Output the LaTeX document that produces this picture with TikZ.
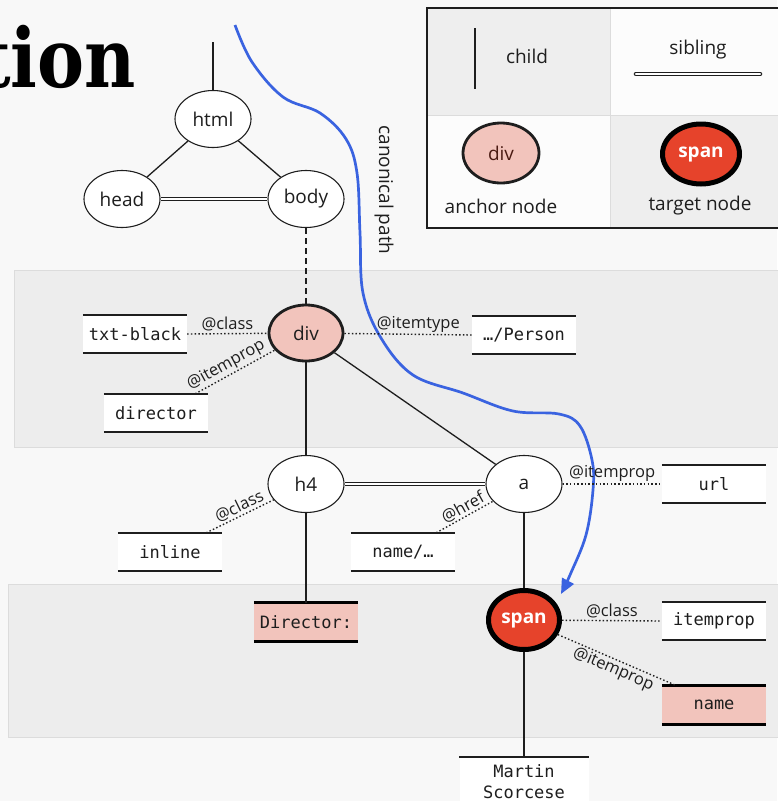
\documentclass[tikz,border=0pt]{standalone}
\usepackage{fontspec}
\setmainfont{Open Sans}
\setmonofont{DejaVu Sans Mono}
\newfontfamily\titlefont{DejaVu Serif}
\usetikzlibrary{shapes.geometric,arrows.meta,calc}
\definecolor{bgc}{HTML}{F8F8F8}
\definecolor{bandc}{HTML}{EDEDED}
\definecolor{bandline}{HTML}{DCDCDC}
\definecolor{pinkc}{HTML}{F2C4BC}
\definecolor{redc}{HTML}{E6432B}
\definecolor{bluec}{HTML}{3A63E0}
\definecolor{inkc}{HTML}{1E1E1E}
\definecolor{cellgray}{HTML}{EEEEEE}
\definecolor{cellwhite}{HTML}{FCFCFC}
\definecolor{dotc}{HTML}{222222}
\definecolor{divtext}{HTML}{4A1A12}
\begin{document}
\begin{tikzpicture}[x=1pt,y=-1pt,
  tnode/.style={ellipse,draw=inkc,fill=white,line width=1.1pt,minimum width=76pt,minimum height=57pt,inner sep=0pt,text=inkc,font=\fontsize{19}{22}\selectfont},
  anchornode/.style={tnode,fill=pinkc,line width=2.8pt,minimum width=74pt,minimum height=56pt},
  targetnode/.style={tnode,draw=black,fill=redc,line width=5pt,minimum width=71pt,minimum height=59pt,text=white,font=\fontsize{19}{22}\selectfont\bfseries},
  valbox/.style={fill=white,minimum width=104pt,minimum height=38pt,inner sep=0pt,text=inkc,font=\ttfamily\fontsize{17}{21}\selectfont},
  hlbox/.style={valbox,fill=pinkc},
  boxrule/.style={line width=2.2pt,draw=inkc},
  hlrule/.style={line width=3pt,draw=black},
  childedge/.style={line width=1.3pt,draw=inkc},
  sibedge/.style={double=white,double distance=2.6pt,line width=1pt,draw=inkc},
  attr/.style={dash pattern=on 1.5pt off 2.2pt,line width=1.4pt,draw=dotc},
  attrlbl/.style={font=\fontsize{16.5}{18}\selectfont,inner sep=1.5pt,text=inkc},
  lbl/.style={font=\fontsize{19}{22}\selectfont,inner sep=0pt,text=inkc}
]
\useasboundingbox (0,0) rectangle (777,801);
\fill[bgc] (0,0) rectangle (777,801);
% bands
\filldraw[fill=bandc,draw=bandline,line width=0.8pt] (14,270) rectangle (790,447);
\filldraw[fill=bandc,draw=bandline,line width=0.8pt] (8,584) rectangle (790,737);

% title fragment
\node[anchor=base east,inner sep=0pt,text=black,font=\titlefont\bfseries\fontsize{82}{90}\selectfont] (title) at (136,87) {\scalebox{0.86}[1]{tion}};

% legend
\fill[cellgray] (427,8) rectangle (610,115);
\fill[cellwhite] (610,8) rectangle (790,115);
\fill[cellwhite] (427,115) rectangle (610,228);
\fill[cellgray] (610,115) rectangle (790,228);
\draw[bandline,line width=1pt] (610,8) -- (610,228) (427,115) -- (790,115);
\draw[draw=inkc,line width=1.3pt] (427,8) rectangle (790,228);
\coordinate (lcA) at (475,28);
\coordinate (lcB) at (475,89);
\draw[childedge] (lcA) -- (lcB);
\node[lbl] (lchild) at (527,56) {child};
\coordinate (lsA) at (636,74);
\coordinate (lsB) at (760,74);
\draw[sibedge,line cap=round] (lsA) -- (lsB);
\node[lbl] (lsib) at (698,50) {sibling};
\node[anchornode,minimum width=76pt,minimum height=60pt,text=divtext] (ldiv) at (501,153) {div};
\node[targetnode,minimum width=77pt,minimum height=60pt] (lspan) at (701,154) {span};
\node[lbl] (lanchor) at (501,206) {anchor node};
\node[lbl] (ltarget) at (700,206) {target node};

% blue canonical path
\coordinate (cpStart) at (235,25);
\coordinate (cpEnd) at (561,594);
\draw[bluec,line width=2.7pt,-{Triangle[length=15pt,width=13pt]}]
  plot[smooth,tension=0.6] coordinates {(235,25) (252,62) (283,97) (320,113) (346,139) (357,173) (360,233) (363,293) (381,338) (413,375) (463,393) (513,411) (559,414) (580,426) (592,460) (593,490) (586,535) (570,575) (561,594)};
\node[lbl,rotate=-90] (canon) at (384,190) {canonical path};

% tree nodes
\coordinate (htmltop) at (213,42);
\node[tnode] (html) at (213,119) {html};
\node[tnode] (head) at (122,199) {head};
\node[tnode] (body) at (306,199) {body};
\node[anchornode] (div) at (306,333) {div};
\node[tnode] (h4) at (306,484) {h4};
\node[tnode] (a) at (524,484) {a};
\node[targetnode] (span) at (524,620) {span};

% value boxes
\node[valbox] (txtblack) at (135,334) {txt-black};
\node[valbox] (person) at (524,335) {\ldots/Person};
\node[valbox] (director) at (156,413) {director};
\node[valbox] (inline) at (170,552) {inline};
\node[valbox] (hrefval) at (403,552) {name/\ldots};
\node[valbox] (url) at (714,484) {url};
\node[hlbox] (dirtext) at (306,622) {Director:};
\node[valbox] (itemprop) at (714,621) {itemprop};
\node[hlbox] (nameval) at (714,705) {name};
\node[valbox,minimum width=129pt,minimum height=50pt,align=center,font=\ttfamily\fontsize{17}{21}\selectfont] (martin) at (524,782) {Martin\\Scorcese};

\foreach \b in {txtblack,person,director,inline,hrefval,url,itemprop}{
  \draw[boxrule] (\b.north west) -- (\b.north east);
  \draw[boxrule] (\b.south west) -- (\b.south east);
}
\foreach \b in {dirtext,nameval}{
  \draw[hlrule] (\b.north west) -- (\b.north east);
  \draw[hlrule] (\b.south west) -- (\b.south east);
}
\draw[boxrule,line width=1.8pt] (martin.north west) -- (martin.north east);

% child and sibling edges
\draw[childedge] (html.north) -- (htmltop);
\draw[childedge] (html) -- (head);
\draw[childedge] (html) -- (body);
\draw[sibedge] (head) -- (body);
\draw[childedge,dash pattern=on 6pt off 4pt] (body) -- (div);
\draw[childedge] (div) -- (h4);
\draw[childedge] (div) -- (a);
\draw[sibedge] (h4) -- (a);
\draw[childedge] (h4) -- (dirtext.north);
\draw[childedge] (a) -- (span);
\draw[childedge] (span) -- (martin.north);

% attribute edges
\draw[attr] (txtblack.east) -- node[attrlbl,above,pos=0.5]{@class} (div);
\draw[attr] (div) -- node[attrlbl,above,pos=0.58]{@itemtype} (person.west);
\draw[attr] ([xshift=-13pt]director.north east) -- node[attrlbl,sloped,above,pos=0.45]{@itemprop} (div);
\draw[attr] ([xshift=-16pt]inline.north east) -- node[attrlbl,sloped,above,pos=0.55]{@class} (h4);
\draw[attr] ([xshift=-19pt]hrefval.north east) -- node[attrlbl,sloped,above,pos=0.55]{@href} (a);
\draw[attr] (a) -- node[attrlbl,above,pos=0.5]{@itemprop} (url.west);
\draw[attr] (span) -- node[attrlbl,above,pos=0.5]{@class} (itemprop.west);
\draw[attr] (span) -- node[attrlbl,sloped,below,pos=0.5]{@itemprop} ([xshift=15pt]nameval.north west);
\end{tikzpicture}
\end{document}
